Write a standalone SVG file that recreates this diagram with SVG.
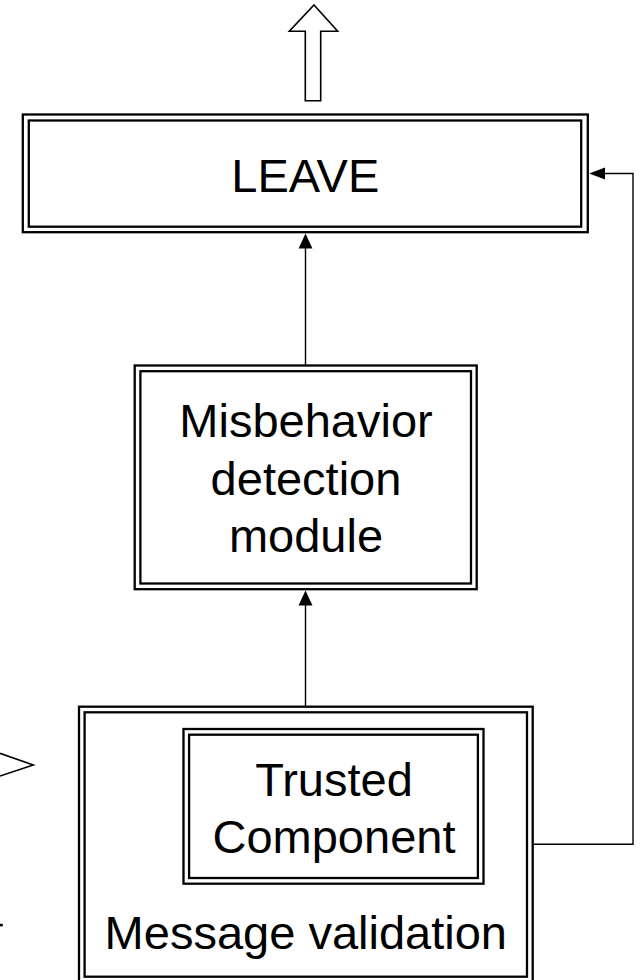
<svg xmlns="http://www.w3.org/2000/svg" width="642" height="980" viewBox="0 0 642 980">
<style>
.b{fill:none;stroke:#000;stroke-width:2.3}
.t{font-family:"Liberation Sans",Arial,sans-serif;font-size:47px;fill:#000;text-anchor:middle}
.c{fill:none;stroke:#000;stroke-width:1.4}
.h{fill:#000;stroke:none}
</style>
<rect width="642" height="980" fill="#fff"/>
<g id="out-arrow">
<polygon points="314,5 337.7,31.3 320.7,31.3 320.7,100.7 305.3,100.7 305.3,31.3 289.3,31.3" fill="#fff" stroke="#000" stroke-width="1.6"/>
</g>
<g id="leave">
<rect class="b" x="22.8" y="114.5" width="565" height="117.7"/>
<rect class="b" x="28.8" y="120.5" width="552.4" height="106.2"/>
<text class="t" x="305.3" y="191.7">LEAVE</text>
</g>
<g id="misbehavior">
<rect class="b" x="134.7" y="365.5" width="342" height="223.7"/>
<rect class="b" x="140.4" y="371.2" width="330.6" height="212.3"/>
<text class="t" x="306" y="436.7">Misbehavior</text>
<text class="t" x="306" y="495">detection</text>
<text class="t" x="306" y="551.7">module</text>
</g>
<g id="message-validation">
<rect class="b" x="79" y="706.7" width="453.7" height="280"/>
<rect class="b" x="84.6" y="712.3" width="442.4" height="264.4"/>
<text class="t" x="305.8" y="949.3">Message validation</text>
</g>
<g id="trusted">
<rect class="b" x="183.5" y="729" width="300" height="154.7"/>
<rect class="b" x="189.1" y="734.7" width="288.8" height="143.3"/>
<text class="t" x="334" y="796">Trusted</text>
<text class="t" x="334" y="852.7">Component</text>
</g>
<g id="left-fragments">
<polyline points="0,753.3 33.3,765 0,776" fill="none" stroke="#000" stroke-width="1.6"/>
<rect x="0" y="923.8" width="2.8" height="2.6" fill="#000"/>
</g>
<g id="connectors">
<line class="c" x1="305.5" y1="365" x2="305.5" y2="247"/>
<polygon class="h" points="305.5,233.5 298.6,248.5 312.4,248.5"/>
<line class="c" x1="305.5" y1="706" x2="305.5" y2="604"/>
<polygon class="h" points="305.5,590.5 298.5,605.5 312.5,605.5"/>
<polyline class="c" points="533.5,844.3 633,844.3 633,173.5 604,173.5"/>
<polygon class="h" points="589.2,173.5 605,167.5 605,179.5"/>
</g>
</svg>
